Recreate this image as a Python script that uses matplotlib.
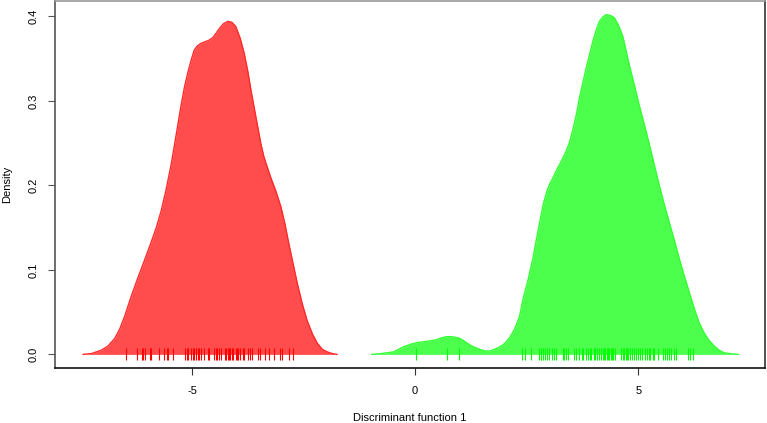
import matplotlib
matplotlib.use("Agg")
import matplotlib.pyplot as plt

plt.rcParams["font.family"] = ["Liberation Sans", "DejaVu Sans"]

# Density curves (x, density)
red_x = [-7.44, -7.25, -7.03, -6.88, -6.73, -6.62, -6.51, -6.36, -6.21, -6.06,
         -5.92, -5.80, -5.69, -5.58, -5.47, -5.36, -5.25, -5.17, -5.10, -5.02,
         -4.95, -4.88, -4.80, -4.70, -4.61, -4.53, -4.46, -4.38, -4.30, -4.20,
         -4.11, -4.02, -3.92, -3.83, -3.75, -3.68, -3.60, -3.53, -3.46, -3.39,
         -3.31, -3.24, -3.12, -3.01, -2.92, -2.83, -2.73, -2.64, -2.53, -2.42,
         -2.30, -2.19, -2.08, -1.97, -1.86, -1.75]
red_y = [0.000, 0.001, 0.005, 0.010, 0.019, 0.030, 0.045, 0.069, 0.091, 0.112,
         0.132, 0.150, 0.170, 0.195, 0.224, 0.258, 0.293, 0.316, 0.332, 0.348,
         0.360, 0.365, 0.368, 0.370, 0.372, 0.375, 0.380, 0.386, 0.391, 0.394,
         0.393, 0.388, 0.374, 0.356, 0.335, 0.313, 0.290, 0.270, 0.250, 0.234,
         0.221, 0.210, 0.193, 0.175, 0.155, 0.131, 0.106, 0.084, 0.060, 0.040,
         0.024, 0.013, 0.006, 0.003, 0.001, 0.000]

green_x = [-0.97, -0.75, -0.48, -0.26, -0.10, 0.04, 0.20, 0.33, 0.45, 0.56,
           0.70, 0.82, 0.92, 1.00, 1.12, 1.23, 1.35, 1.45, 1.56, 1.67,
           1.78, 1.90, 2.01, 2.12, 2.23, 2.34, 2.42, 2.53, 2.64, 2.75,
           2.86, 2.94, 3.01, 3.09, 3.16, 3.27, 3.38, 3.46, 3.53, 3.61,
           3.68, 3.76, 3.83, 3.91, 3.98, 4.06, 4.13, 4.20, 4.28, 4.38,
           4.47, 4.56, 4.65, 4.72, 4.80, 4.91, 5.02, 5.14, 5.25, 5.36,
           5.47, 5.58, 5.69, 5.81, 5.92, 6.03, 6.14, 6.25, 6.36, 6.47,
           6.58, 6.70, 6.81, 6.92, 7.03, 7.24]
green_y = [0.000, 0.001, 0.003, 0.009, 0.012, 0.014, 0.015, 0.016, 0.017, 0.019,
           0.021, 0.021, 0.020, 0.019, 0.015, 0.011, 0.008, 0.006, 0.004, 0.004,
           0.006, 0.009, 0.013, 0.020, 0.030, 0.045, 0.066, 0.088, 0.114, 0.145,
           0.175, 0.191, 0.201, 0.209, 0.217, 0.228, 0.240, 0.251, 0.265, 0.283,
           0.303, 0.322, 0.338, 0.355, 0.370, 0.384, 0.394, 0.399, 0.402, 0.401,
           0.398, 0.389, 0.377, 0.361, 0.342, 0.319, 0.295, 0.271, 0.248, 0.224,
           0.200, 0.178, 0.157, 0.135, 0.113, 0.093, 0.074, 0.055, 0.038, 0.026,
           0.017, 0.010, 0.005, 0.002, 0.001, 0.000]

# Rug positions
red_rug = [-6.49, -6.23, -6.13, -6.10, -6.06, -5.93, -5.91, -5.75, -5.63, -5.56,
           -5.54, -5.42, -5.15, -5.12, -5.09, -5.02, -4.98, -4.95, -4.91, -4.87,
           -4.84, -4.79, -4.73, -4.65, -4.61, -4.50, -4.47, -4.44, -4.39, -4.34,
           -4.26, -4.23, -4.20, -4.17, -4.15, -4.11, -4.08, -4.02, -4.00, -3.97,
           -3.92, -3.86, -3.83, -3.74, -3.70, -3.65, -3.53, -3.48, -3.37, -3.27,
           -3.16, -3.03, -2.99, -2.83, -2.74]
green_rug = [0.02, 0.71, 0.99, 2.40, 2.47, 2.59, 2.78, 2.81, 2.83, 2.86,
             2.91, 2.95, 3.00, 3.06, 3.12, 3.16, 3.31, 3.34, 3.39, 3.43,
             3.57, 3.61, 3.68, 3.73, 3.77, 3.83, 3.88, 3.91, 3.95, 4.00,
             4.02, 4.07, 4.11, 4.16, 4.20, 4.23, 4.26, 4.29, 4.32, 4.35,
             4.38, 4.41, 4.44, 4.47, 4.61, 4.65, 4.69, 4.73, 4.75, 4.78,
             4.81, 4.86, 4.90, 4.95, 4.99, 5.04, 5.08, 5.14, 5.19, 5.23,
             5.27, 5.32, 5.36, 5.44, 5.56, 5.60, 5.65, 5.69, 5.74, 5.80,
             5.85, 6.11, 6.17, 6.23]

x_ticks = [-5, 0, 5]
y_ticks = [0.0, 0.1, 0.2, 0.3, 0.4]

fig = plt.figure(figsize=(7.67, 4.23), dpi=100)
ax = fig.add_axes([55 / 767, 55 / 423, 710 / 767, 367 / 423])

for xs, ys, fill, edge, rug, rugc in [
    (red_x, red_y, "#FF4C4C", "#FF2A2A", red_rug, "#FF0000"),
    (green_x, green_y, "#4CFF4C", "#33FF33", green_rug, "#00FF00"),
]:
    ax.fill_between(xs, ys, 0, color=fill, linewidth=0)
    ax.plot(xs, ys, color=edge, linewidth=1.0, solid_joinstyle="round")
    ax.scatter(rug, [0] * len(rug), marker="|", s=64, color=rugc, linewidths=0.8)

ax.set_xlim(-8.07, 7.84)
ax.set_ylim(-0.0161, 0.4181)
ax.set_xticks(x_ticks)
ax.set_xticklabels(["-5", "0", "5"])
ax.set_yticks(y_ticks)
ax.set_yticklabels(["0.0", "0.1", "0.2", "0.3", "0.4"], rotation=90, va="center")
ax.tick_params(axis="x", length=5, width=0.8, color="#333333", labelsize=8, pad=8)
ax.tick_params(axis="y", length=5, width=0.8, color="#555555", labelsize=8, pad=7)

ax.spines["top"].set_color("#999999")
ax.spines["right"].set_color("#333333")
ax.spines["bottom"].set_color("#111111")
ax.spines["left"].set_color("#555555")
for s in ax.spines.values():
    s.set_linewidth(1.2)

ax.set_xlabel("Discriminant function 1", fontsize=8, labelpad=12)
ax.set_ylabel("Density", fontsize=8, labelpad=12)

fig.savefig("out.png", dpi=100)
